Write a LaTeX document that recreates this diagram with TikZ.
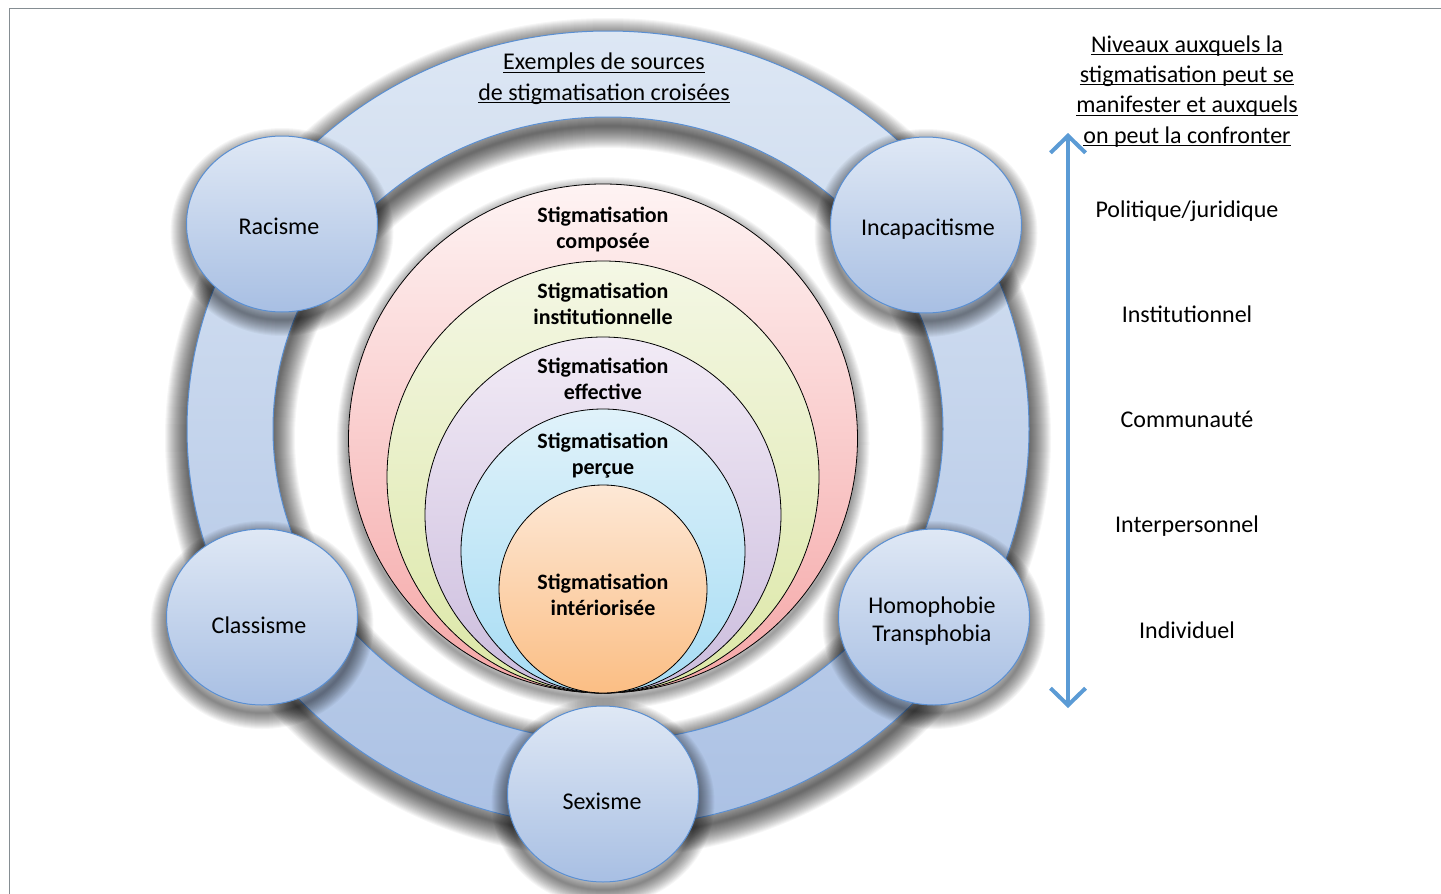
\documentclass[tikz,border=0pt]{standalone}
\usepackage{fontspec}
\setmainfont{Carlito}
\usetikzlibrary{arrows.meta,shapes.geometric}

\definecolor{framegray}{HTML}{858D92}
\definecolor{ringtop}{HTML}{DDE7F4}
\definecolor{ringbot}{HTML}{ABC1E4}
\definecolor{satline}{HTML}{5A8FD2}
\definecolor{sattop}{HTML}{DFE8F5}
\definecolor{satbot}{HTML}{A8BFE3}
\definecolor{pinkT}{HTML}{FEF3F3}
\definecolor{pinkB}{HTML}{F5A6A6}
\definecolor{greenT}{HTML}{F4F7E5}
\definecolor{greenB}{HTML}{DCE7A6}
\definecolor{purpT}{HTML}{F2EBF6}
\definecolor{purpB}{HTML}{CBBCDD}
\definecolor{blueT}{HTML}{E0F2FA}
\definecolor{blueB}{HTML}{A6DCF4}
\definecolor{orangeT}{HTML}{FDE8D6}
\definecolor{orangeB}{HTML}{FBBE84}
\definecolor{levelblue}{HTML}{5B9BD5}

% underline at a fixed depth below the baseline
\newcommand\ulin[1]{\setbox0\hbox{#1}\rlap{\rule[-3pt]{\wd0}{1.1pt}}\box0}

% soft shadow made of stacked translucent strokes
\newcommand\softshadow[3]{%
  \foreach \k in {1,...,#2}{%
    \pgfmathsetmacro\shw{2*\k}%
    \draw[black,draw opacity=0.034,line width=\shw pt,#1] #3;}}

\tikzset{
  regular/.style={font=\fontsize{24}{30.3}\selectfont},
  boldlbl/.style={font=\fontsize{22}{26}\selectfont\bfseries, align=center, anchor=base, inner sep=0pt},
  satellite/.style={ellipse, draw=satline, line width=1pt, top color=sattop, bottom color=satbot,
    minimum width=191pt, minimum height=176pt, inner sep=0pt},
  satlbl/.style={font=\fontsize{24}{28}\selectfont, align=center, inner sep=0pt},
  layer/.style={draw=black, line width=0.8pt},
  levelarrow/.style={draw=levelblue, line width=4pt,
    {Straight Barb[length=17pt,width=35pt]}-{Straight Barb[length=17pt,width=35pt]}},
  levellbl/.style={regular, anchor=base, inner sep=0pt},
}

\begin{document}
\begin{tikzpicture}[x=1pt,y=-1pt]
\useasboundingbox (0,0) rectangle (1441,894);
\fill[white] (0,0) rectangle (1441,894);

% page frame
\draw[framegray, line width=1.5pt] (9.5,894) -- (9.5,8.5) -- (1441,8.5);

% outer ring
\softshadow{shift={(0,9)}}{22}{(608,429) ellipse [x radius=421pt, y radius=398pt] (608,429) ellipse [x radius=335pt, y radius=312pt]}
\shade[even odd rule, top color=ringtop, bottom color=ringbot]
  (608,429) ellipse [x radius=421pt, y radius=398pt]
  (608,429) ellipse [x radius=335pt, y radius=312pt];
\draw[satline, line width=1pt] (608,429) ellipse [x radius=421pt, y radius=398pt];
\draw[satline, line width=1pt] (608,429) ellipse [x radius=335pt, y radius=312pt];

\node[regular, align=center, anchor=base, inner sep=0pt] (ringtitle) at (604,100)
  {\ulin{Exemples de sources}\\\ulin{de stigmatisation croisées}};

% nested levels of stigma
\softshadow{shift={(0,5)}}{12}{(603,438.5) circle [radius=254.5pt]}
\draw[layer, top color=pinkT, bottom color=pinkB] (603,438.5) circle [radius=254.5pt];
\draw[layer, top color=greenT, bottom color=greenB] (603,477) circle [radius=216pt];
\draw[layer, top color=purpT, bottom color=purpB] (603,515) circle [radius=178pt];
\draw[layer, top color=blueT, bottom color=blueB] (603,551) circle [radius=142pt];
\draw[layer, top color=orangeT, bottom color=orangeB] (603,589) circle [radius=104pt];

\node[boldlbl] (composee) at (603,248) {Stigmatisation\\composée};
\node[boldlbl] (institution) at (603,324) {Stigmatisation\\institutionnelle};
\node[boldlbl] (effective) at (603,399) {Stigmatisation\\effective};
\node[boldlbl] (percue) at (603,474) {Stigmatisation\\perçue};
\node[boldlbl] (interieur) at (603,615) {Stigmatisation\\intériorisée};

% sources around the ring
\softshadow{shift={(0,8)}}{16}{(282,224) ellipse [x radius=95.5pt, y radius=88pt]}
\node[satellite] (racisme) at (282,224) {};
\node[satlbl] (racismetxt) at (279,226) {Racisme};
\softshadow{shift={(0,8)}}{16}{(926,225) ellipse [x radius=95.5pt, y radius=88pt]}
\node[satellite] (incapacitisme) at (926,225) {};
\node[satlbl] (incapacitismetxt) at (928,229) {Incapacitisme};
\softshadow{shift={(0,8)}}{16}{(262,617) ellipse [x radius=95.5pt, y radius=88pt]}
\node[satellite] (classisme) at (262,617) {};
\node[satlbl] (classismetxt) at (259,625) {Classisme};
\softshadow{shift={(0,8)}}{16}{(934,617) ellipse [x radius=95.5pt, y radius=88pt]}
\node[satellite] (homophobie) at (934,617) {};
\node[satlbl] (homophobietxt) at (932,621) {Homophobie\\Transphobia};
\softshadow{shift={(0,8)}}{16}{(603,794) ellipse [x radius=95.5pt, y radius=88pt]}
\node[satellite] (sexisme) at (603,794) {};
\node[satlbl] (sexismetxt) at (602,801) {Sexisme};

% levels column
\node[regular, align=center, anchor=base, inner sep=0pt] (levelhead) at (1187,143)
  {\ulin{Niveaux auxquels la}\\\ulin{stigmatisation peut se}\\\ulin{manifester et auxquels}\\\ulin{on peut la confronter}};
\coordinate (lvtop) at (1068,133);
\coordinate (lvbot) at (1068,708);
\draw[levelarrow] (lvtop) -- (lvbot);

\node[levellbl] (politique) at (1187,217) {Politique/juridique};
\node[levellbl] (institutionnel) at (1187,322) {Institutionnel};
\node[levellbl] (communaute) at (1187,427) {Communauté};
\node[levellbl] (interpersonnel) at (1187,532) {Interpersonnel};
\node[levellbl] (individuel) at (1187,638) {Individuel};
\end{tikzpicture}
\end{document}
